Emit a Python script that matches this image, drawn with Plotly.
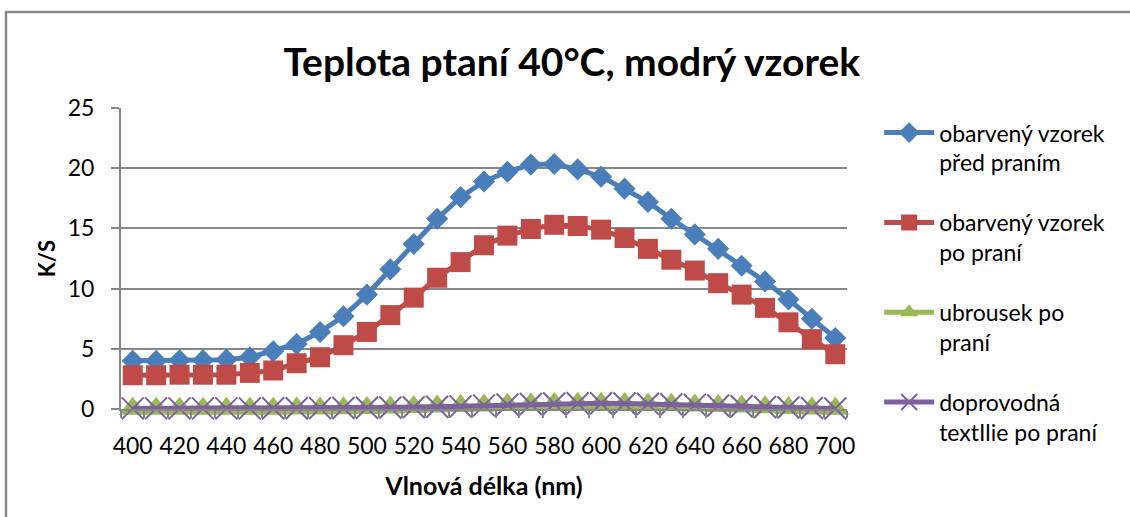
import plotly.graph_objects as go

# Wavelength categories (nm)
wavelengths = [400, 410, 420, 430, 440, 450, 460, 470, 480, 490, 500, 510, 520, 530, 540, 550,
               560, 570, 580, 590, 600, 610, 620, 630, 640, 650, 660, 670, 680, 690, 700]
tick_labels = [400, 420, 440, 460, 480, 500, 520, 540, 560, 580, 600, 620, 640, 660, 680, 700]

# K/S values per series
pred_pranim = [4.0, 4.0, 4.05, 4.05, 4.1, 4.3, 4.8, 5.4, 6.4, 7.7, 9.5, 11.6, 13.7, 15.8, 17.6, 18.9,
               19.7, 20.3, 20.35, 19.9, 19.3, 18.3, 17.2, 15.8, 14.5, 13.3, 11.9, 10.6, 9.1, 7.5, 5.9]
po_prani = [2.8, 2.8, 2.85, 2.85, 2.85, 3.0, 3.2, 3.8, 4.3, 5.3, 6.4, 7.8, 9.25, 10.9, 12.2, 13.6,
            14.4, 14.95, 15.3, 15.2, 14.9, 14.2, 13.3, 12.4, 11.5, 10.45, 9.5, 8.4, 7.2, 5.8, 4.55]
ubrousek = [0.02, 0.02, 0.02, 0.02, 0.02, 0.03, 0.03, 0.04, 0.05, 0.07, 0.09, 0.12, 0.16, 0.2, 0.25, 0.3,
            0.35, 0.4, 0.42, 0.43, 0.43, 0.41, 0.38, 0.35, 0.3, 0.25, 0.2, 0.15, 0.08, 0.04, 0.02]
doprovodna = [0.05, 0.05, 0.05, 0.05, 0.05, 0.05, 0.06, 0.06, 0.07, 0.08, 0.1, 0.12, 0.15, 0.18, 0.22, 0.3,
              0.37, 0.42, 0.46, 0.48, 0.48, 0.46, 0.43, 0.39, 0.34, 0.29, 0.23, 0.17, 0.12, 0.08, 0.04]

FONT = "Lato"
GRID = "#878787"

series = [
    ("obarvený vzorek<br>před praním", pred_pranim, "#4A7EBB", dict(symbol="diamond", size=17)),
    ("obarvený vzorek<br>po praní", po_prani, "#BE4B48", dict(symbol="square", size=20)),
    ("ubrousek po<br>praní", ubrousek, "#98B954", dict(symbol="triangle-up", size=24)),
    ("doprovodná<br>textIlie po praní", doprovodna, "#7D60A0",
     dict(symbol="x-thin-open", size=22, line=dict(width=2, color="#7D60A0"))),
]

fig = go.Figure()
for i, (name, ys, color, marker) in enumerate(series):
    fig.add_trace(go.Scatter(
        x=wavelengths, y=ys, name=name, mode="lines+markers",
        line=dict(color=color, width=5),
        marker=dict(color=color, **marker),
        cliponaxis=False, legendgroup=f"g{i}",
    ))

# Chart-area frame
fig.add_shape(type="rect", xref="paper", yref="paper",
              x0=-0.1584, y0=-1.0, x1=2.0, y1=1.319,
              line=dict(color="#8A8A8A", width=2.5), layer="below")

fig.update_layout(
    width=1130, height=517,
    margin=dict(l=121, r=283, t=108, b=108),
    paper_bgcolor="white", plot_bgcolor="white",
    font=dict(family=FONT, size=23, color="#000000"),
    title=dict(text="<b>Teplota ptaní 40°C, modrý vzorek</b>",
               x=0.506, xref="container", xanchor="center",
               y=0.88, yref="container", yanchor="middle",
               font=dict(family=FONT, size=39, color="#000000")),
    showlegend=True,
    legend=dict(xref="container", yref="container", x=0.778, y=0.785,
                xanchor="left", yanchor="top", valign="top",
                traceorder="grouped", tracegroupgap=27, itemwidth=50,
                maxheight=450,
                font=dict(family=FONT, size=23, color="#000000"),
                bgcolor="rgba(0,0,0,0)"),
    xaxis=dict(
        range=[395, 705], tickmode="array", tickvals=tick_labels,
        ticks="", showgrid=False, zeroline=False,
        showline=True, linecolor=GRID, linewidth=2,
        ticklabelstandoff=15,
        minor=dict(tickmode="array",
                   tickvals=[395 + 10 * k for k in range(32)],
                   ticks="outside", ticklen=7, tickcolor=GRID, tickwidth=1.5,
                   showgrid=False),
        title=dict(text="<b>Vlnová délka (nm)</b>", standoff=20,
                   font=dict(family=FONT, size=25)),
    ),
    yaxis=dict(
        range=[0, 25], tickmode="array", tickvals=[0, 5, 10, 15, 20, 25],
        ticks="outside", ticklen=8, tickcolor=GRID, tickwidth=1.5,
        showgrid=True, gridcolor=GRID, gridwidth=2, zeroline=False,
        showline=True, linecolor=GRID, linewidth=2,
        ticklabelstandoff=12,
        title=dict(text="<b>K/S</b>", standoff=6, font=dict(family=FONT, size=22)),
    ),
)

fig.write_html("out.html")
